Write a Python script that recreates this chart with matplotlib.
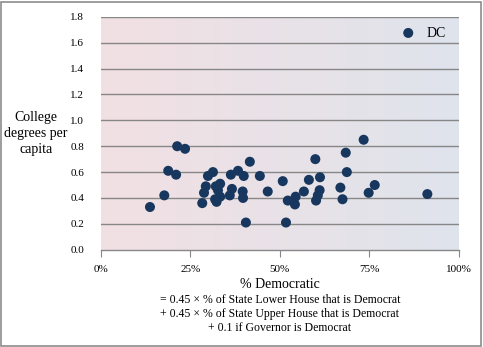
import numpy as np
import matplotlib
matplotlib.use("Agg")
import matplotlib.pyplot as plt
from matplotlib.colors import LinearSegmentedColormap
from matplotlib.patches import Rectangle

pct_dem = [13.7, 17.7, 18.8, 21.0, 21.3, 23.5, 28.3, 28.8, 29.3, 29.9,
           31.3, 31.9, 32.3, 32.1, 32.7, 33.3, 33.3, 36.0, 36.6, 36.3,
           38.3, 39.9, 39.6, 39.7, 40.5, 41.6, 44.4, 46.6, 50.8, 51.7,
           52.2, 54.4, 54.2, 56.7, 58.1, 59.9, 60.1, 60.6, 61.1, 61.2,
           66.9, 67.5, 68.4, 68.7, 73.4, 74.8, 76.5, 91.2]
degrees = [0.33, 0.42, 0.61, 0.58, 0.80, 0.78, 0.36, 0.44, 0.49, 0.57,
           0.60, 0.39, 0.37, 0.49, 0.46, 0.51, 0.41, 0.42, 0.47, 0.58,
           0.61, 0.57, 0.45, 0.40, 0.21, 0.68, 0.57, 0.45, 0.53, 0.21,
           0.38, 0.41, 0.35, 0.45, 0.54, 0.70, 0.38, 0.42, 0.46, 0.56,
           0.48, 0.39, 0.75, 0.60, 0.85, 0.44, 0.50, 0.43]
series_label = "DC"
x_ticks = [0, 25, 50, 75, 100]
x_tick_labels = ["0%", "25%", "50%", "75%", "100%"]
y_ticks = [0.0, 0.2, 0.4, 0.6, 0.8, 1.0, 1.2, 1.4, 1.6, 1.8]

plt.rcParams['font.family'] = ['Liberation Serif', 'DejaVu Serif']

fig = plt.figure(figsize=(4.83, 3.47), dpi=100)
fig.patches.append(Rectangle((0.003, 0.004), 0.993, 0.99, transform=fig.transFigure,
                             fill=False, edgecolor='#8c8c8c', linewidth=1.2))
ax = fig.add_axes([0.209, 0.2804, 0.741, 0.671])

cmap = LinearSegmentedColormap.from_list('bg', ['#f2e0e3', '#dfe4ec'])
grad = np.linspace(0, 1, 256).reshape(1, -1)
ax.imshow(grad, extent=[0, 100, 0, 1.8], aspect='auto', cmap=cmap, zorder=0)

ax.set_xlim(0, 100)
ax.set_ylim(0, 1.8)
for yv in y_ticks[1:]:
    ax.axhline(yv, color='#878787', linewidth=1.0, zorder=1)

ax.scatter(pct_dem, degrees, s=52, color='#17375e', zorder=3, label=series_label,
           edgecolors='none')

for s in ['top', 'right', 'left']:
    ax.spines[s].set_visible(False)
ax.spines['bottom'].set_color('#878787')
ax.spines['bottom'].set_linewidth(1.0)

ax.set_xticks(x_ticks)
ax.set_xticklabels(x_tick_labels, fontsize=8)
ax.set_yticks(y_ticks)
ax.set_yticklabels([f"{v:.1f}" for v in y_ticks], fontsize=8)
ax.tick_params(axis='x', direction='out', length=5, color='#878787', pad=6)
ax.tick_params(axis='y', length=0, pad=12)

fig.text(36 / 483, 1 - 133 / 347, "College\ndegrees per\ncapita",
         ha='center', va='center', fontsize=10, linespacing=1.3)

xc = 0.209 + 0.741 / 2
fig.text(xc, 1 - 285 / 347, "% Democratic", ha='center', va='center', fontsize=10)
fig.text(xc, 1 - 300 / 347, "= 0.45 \u00d7 % of State Lower House that is Democrat",
         ha='center', va='center', fontsize=8.5)
fig.text(xc, 1 - 314 / 347, "+ 0.45 \u00d7 % of State Upper House that is Democrat",
         ha='center', va='center', fontsize=8.5)
fig.text(xc, 1 - 328 / 347, "+ 0.1 if Governor is Democrat",
         ha='center', va='center', fontsize=8.5)

ax.legend(loc='upper right', frameon=False, fontsize=10, handletextpad=0.3,
          borderaxespad=0.3, markerscale=1.0, bbox_to_anchor=(0.99, 1.0))

fig.savefig("out.png", dpi=100)
